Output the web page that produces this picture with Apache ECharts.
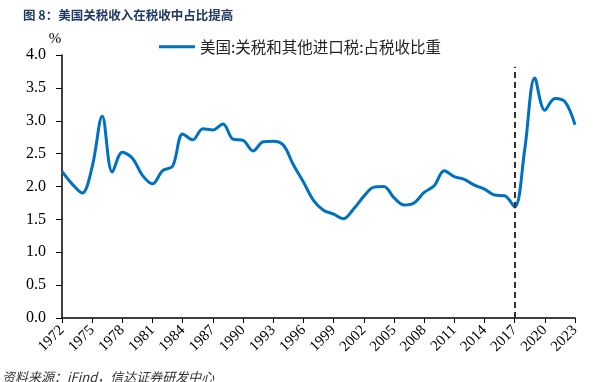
<!DOCTYPE html>
<html>
<head>
<meta charset="utf-8">
<script src="https://cdn.jsdelivr.net/npm/echarts@6/dist/echarts.min.js"></script>
<style>
  html, body { margin: 0; padding: 0; background: #fff; }
  #chart { width: 604px; height: 382px; }
</style>
</head>
<body>
<div id="chart"></div>
<script>
// 年份
const years = [];
for (let y = 1972; y <= 2023; y++) years.push(String(y));

// 美国:关税和其他进口税:占税收比重 (%)
const shareValues = [
  2.23, 2.04, 1.90, 2.30, 3.07, 2.22, 2.52, 2.43, 2.17, 2.04,
  2.24, 2.31, 2.80, 2.71, 2.88, 2.86, 2.95, 2.72, 2.70, 2.54,
  2.68, 2.69, 2.63, 2.33, 2.07, 1.79, 1.64, 1.58, 1.51, 1.66,
  1.85, 1.99, 2.00, 1.83, 1.72, 1.75, 1.91, 2.01, 2.24, 2.15,
  2.11, 2.02, 1.96, 1.87, 1.86, 1.69, 2.56, 3.65, 3.16, 3.34,
  3.29, 2.94
];

const markYear = '2017';
const serif = '"Liberation Serif", "Times New Roman", serif';
const cjk = '"Noto Sans CJK SC", sans-serif';

const chart = echarts.init(document.getElementById('chart'));

chart.setOption({
  animation: false,
  title: {
    text: '图 8：美国关税收入在税收中占比提高',
    left: 18,
    top: 4,
    textStyle: { fontFamily: cjk, fontSize: 12.5, fontWeight: 'bold', color: '#1F3864' }
  },
  legend: {
    left: 154,
    top: 34,
    icon: 'rect',
    itemWidth: 36,
    itemHeight: 3,
    itemGap: 4,
    textStyle: { fontFamily: cjk, fontSize: 15.5, color: '#222' }
  },
  grid: { left: 62, right: 29, top: 55, bottom: 64, containLabel: false },
  xAxis: {
    type: 'category',
    data: years,
    boundaryGap: false,
    axisLine: { lineStyle: { color: '#000', width: 1.5 } },
    axisTick: { interval: 2, length: 5, lineStyle: { color: '#000' } },
    axisLabel: {
      interval: 2,
      rotate: 45,
      margin: 10,
      fontFamily: serif,
      fontSize: 15,
      color: '#000'
    },
    splitLine: { show: false }
  },
  yAxis: {
    type: 'value',
    min: 0,
    max: 4,
    interval: 0.5,
    name: '%',
    nameLocation: 'end',
    nameGap: 8,
    nameTextStyle: { fontFamily: serif, fontSize: 15, color: '#000', padding: [0, 14, 0, 0] },
    axisLine: { show: true, lineStyle: { color: '#000', width: 1.5 } },
    axisTick: { show: true, length: 6, lineStyle: { color: '#000' } },
    axisLabel: {
      margin: 16,
      fontFamily: serif,
      fontSize: 16,
      color: '#000',
      formatter: v => v.toFixed(1)
    },
    splitLine: { show: false }
  },
  series: [{
    name: '美国:关税和其他进口税:占税收比重',
    type: 'line',
    data: shareValues,
    smooth: 0.35,
    symbol: 'none',
    lineStyle: { color: '#0070C0', width: 3 },
    itemStyle: { color: '#0070C0' },
    markLine: {
      silent: true,
      symbol: 'none',
      label: { show: false },
      lineStyle: { color: '#333', type: [6, 4], width: 2 },
      data: [[{ coord: [markYear, 0] }, { coord: [markYear, 3.82] }]]
    }
  }],
  graphic: [{
    type: 'text',
    left: 2,
    top: 371,
    style: {
      text: '资料来源：iFind，信达证券研发中心',
      fontFamily: cjk,
      fontSize: 13,
      fontStyle: 'italic',
      fill: '#333'
    }
  }]
});
</script>
</body>
</html>
